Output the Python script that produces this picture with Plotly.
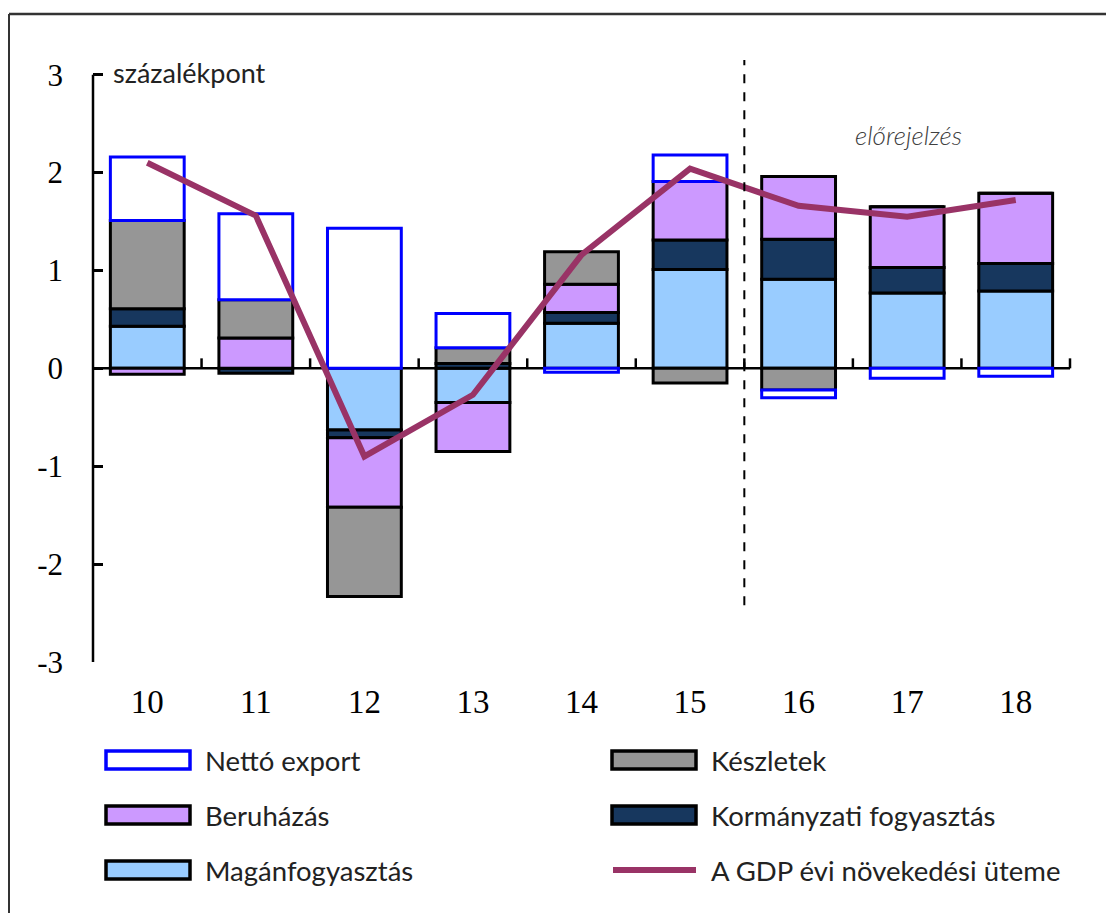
import plotly.graph_objects as go

# ---------------- data ----------------
years = ["10", "11", "12", "13", "14", "15", "16", "17", "18"]
magan = [0.43, 0.00, -0.63, -0.35, 0.46, 1.01, 0.91, 0.77, 0.79]
kormanyzati = [0.18, -0.05, -0.08, 0.05, 0.11, 0.30, 0.41, 0.26, 0.28]
beruhazas = [-0.06, 0.31, -0.71, -0.50, 0.29, 0.60, 0.64, 0.62, 0.72]
keszletek = [0.90, 0.39, -0.91, 0.16, 0.33, -0.15, -0.22, 0.00, 0.00]
netto_export = [0.65, 0.88, 1.43, 0.35, -0.04, 0.27, -0.08, -0.10, -0.08]
gdp = [2.10, 1.56, -0.90, -0.27, 1.16, 2.04, 1.66, 1.55, 1.72]

yticks = [-3, -2, -1, 0, 1, 2, 3]
ytick_text = ["-3", "-2", "-1", "0", "1", "2", "3"]

names = {
    "nx": "Nettó export",
    "kesz": "Készletek",
    "ber": "Beruházás",
    "korm": "Kormányzati fogyasztás",
    "magan": "Magánfogyasztás",
    "gdp": "A GDP évi növekedési üteme",
}
colors = {
    "nx": "#FFFFFF",
    "kesz": "#969696",
    "ber": "#CC99FF",
    "korm": "#17375E",
    "magan": "#99CCFF",
    "gdp": "#993366",
}

# ---------------- layout geometry ----------------
W, H = 1106, 913
L, R, T, B = 93, 36, 60, 251
PW, PH = W - L - R, H - T - B
Y_RANGE = [-3, 3.15]
X_RANGE = [-0.5, len(years) - 0.5]


def px_x(px):
    return (px - L) / PW


def px_y(py):
    return (H - B - py) / PH


def data_y_to_paper(v):
    return (v - Y_RANGE[0]) / (Y_RANGE[1] - Y_RANGE[0])


def data_x_to_paper(v):
    return (v - X_RANGE[0]) / (X_RANGE[1] - X_RANGE[0])


fig = go.Figure()
BW = 0.68
outline = dict(color="black", width=3)

for key, vals in [("magan", magan), ("korm", kormanyzati), ("ber", beruhazas),
                  ("kesz", keszletek)]:
    fig.add_trace(go.Bar(x=years, y=vals, name=names[key], width=BW,
                         marker=dict(color=colors[key], line=outline)))

fig.add_trace(go.Bar(x=years, y=netto_export, name=names["nx"], width=BW,
                     marker=dict(color=colors["nx"], line=dict(color="#0000FF", width=3))))

fig.add_trace(go.Scatter(x=years, y=gdp, name=names["gdp"], mode="lines",
                         line=dict(color=colors["gdp"], width=6)))

shapes = []
# y-axis spine (from -3 to 3)
shapes.append(dict(type="line", xref="paper", yref="paper", x0=0, x1=0,
                   y0=data_y_to_paper(-3), y1=data_y_to_paper(3),
                   line=dict(color="black", width=2.5)))
# category boundary ticks on the zero line
for i in range(len(years)):
    xb = data_x_to_paper(i + 0.5)
    shapes.append(dict(type="line", xref="paper", yref="paper", x0=xb, x1=xb,
                       y0=data_y_to_paper(0), y1=data_y_to_paper(0) + 10 / PH,
                       line=dict(color="black", width=2.5)))
# zero line
shapes.append(dict(type="line", xref="paper", yref="paper", x0=0, x1=1,
                   y0=data_y_to_paper(0), y1=data_y_to_paper(0),
                   line=dict(color="black", width=2.5), layer="below"))
# forecast separator
shapes.append(dict(type="line", xref="x", yref="y", x0=5.5, x1=5.5,
                   y0=-2.42, y1=3.15,
                   line=dict(color="black", width=2, dash="dash")))
# frame
shapes.append(dict(type="line", xref="paper", yref="paper", x0=px_x(9), x1=px_x(9),
                   y0=px_y(14), y1=px_y(H + 5), line=dict(color="#333333", width=2)))
shapes.append(dict(type="line", xref="paper", yref="paper", x0=px_x(9), x1=px_x(W + 5),
                   y0=px_y(14), y1=px_y(14), line=dict(color="#333333", width=2.5)))

annotations = [
    dict(text="százalékpont", xref="paper", yref="paper", x=px_x(111), y=px_y(73),
         xanchor="left", yanchor="middle", showarrow=False,
         font=dict(family="Lato", size=27, color="#222222")),
    dict(text="<i>előrejelzés</i>", xref="x", yref="y", x=7.01, y=2.38,
         xanchor="center", yanchor="middle", showarrow=False,
         font=dict(family="Lato", size=26, color="#404040", weight=300)),
]

# manual legend (2 columns x 3 rows)
legend_items = [("nx", 0, 0), ("kesz", 1, 0), ("ber", 0, 1), ("korm", 1, 1),
                ("magan", 0, 2), ("gdp", 1, 2)]
col_x = [106, 612]
row_y = [760, 815, 870]
for key, c, r in legend_items:
    x0 = col_x[c]
    yc = row_y[r]
    if key == "gdp":
        shapes.append(dict(type="line", xref="paper", yref="paper",
                           x0=px_x(x0 + 1), x1=px_x(x0 + 84), y0=px_y(yc), y1=px_y(yc),
                           line=dict(color=colors["gdp"], width=6)))
    else:
        lc = "#0000FF" if key == "nx" else "black"
        shapes.append(dict(type="rect", xref="paper", yref="paper",
                           x0=px_x(x0), x1=px_x(x0 + 84), y0=px_y(yc - 9), y1=px_y(yc + 9),
                           fillcolor=colors[key], line=dict(color=lc, width=3.5)))
    annotations.append(dict(text=names[key], xref="paper", yref="paper",
                            x=px_x(x0 + 97), y=px_y(yc), xanchor="left", yanchor="middle",
                            showarrow=False, font=dict(family="Lato", size=27.5, color="#222222")))

fig.update_layout(
    width=W, height=H,
    margin=dict(l=L, r=R, t=T, b=B, pad=0),
    paper_bgcolor="white", plot_bgcolor="white",
    barmode="relative", bargap=0.32,
    showlegend=False,
    shapes=shapes, annotations=annotations,
    xaxis=dict(type="category", range=X_RANGE, showgrid=False, showline=False,
               zeroline=False, ticks="", ticklabelstandoff=17,
               tickfont=dict(family="Liberation Serif", size=33, color="black")),
    yaxis=dict(range=Y_RANGE, tickvals=yticks, ticktext=ytick_text, showgrid=False,
               showline=False, zeroline=False, ticks="inside", ticklen=10, tickwidth=2.5,
               tickcolor="black", ticklabelstandoff=29,
               tickfont=dict(family="Liberation Serif", size=31, color="black")),
)

fig.write_html("out.html", config={"displayModeBar": False},
               post_script="document.body.style.margin='0px';")
